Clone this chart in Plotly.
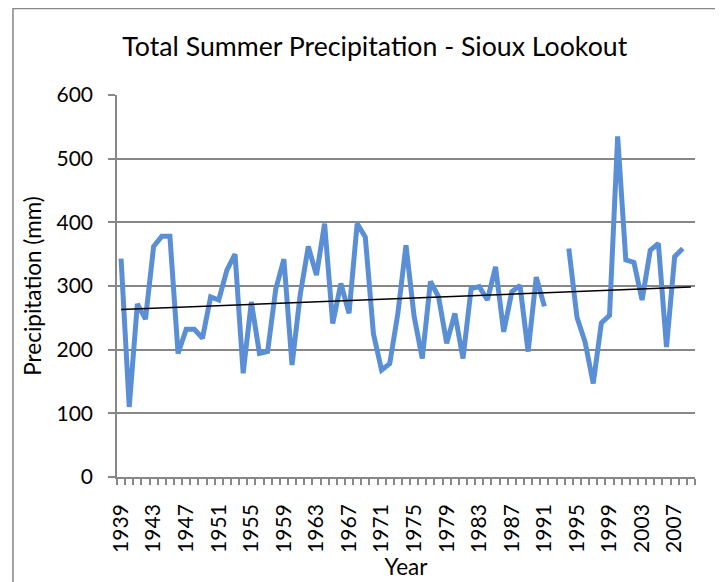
import numpy as np
import plotly.graph_objects as go

years = list(range(1939, 2010))
precip = [343, 110, 272, 248, 362, 378, 378, 194, 232, 232,
          218, 283, 278, 325, 350, 163, 275, 194, 197, 295,
          342, 176, 286, 362, 317, 398, 241, 304, 257, 398,
          377, 225, 168, 178, 257, 364, 252, 186, 307, 283,
          210, 257, 186, 296, 299, 278, 330, 228, 291, 301,
          197, 314, 268, None, None, 359, 251, 212, 147, 242,
          254, 535, 341, 337, 278, 356, 367, 204, 346, 359, None]
tick_years = list(range(1939, 2010, 4))
y_ticks = [0, 100, 200, 300, 400, 500, 600]

# linear trend through available points
xs = np.array([y for y, v in zip(years, precip) if v is not None], dtype=float)
vs = np.array([v for v in precip if v is not None], dtype=float)
slope, intercept = np.polyfit(xs, vs, 1)
trend_x = [years[0], years[-1]]
trend_y = [slope * x + intercept for x in trend_x]

FONT = "Lato"
GRAY = "#878787"
fig = go.Figure()
fig.add_trace(go.Scatter(x=years, y=precip, mode="lines",
                         line=dict(color="#5A8FD6", width=5),
                         connectgaps=False, showlegend=False))
fig.add_trace(go.Scatter(x=trend_x, y=trend_y, mode="lines",
                         line=dict(color="black", width=1.5),
                         showlegend=False))

fig.update_layout(
    width=715, height=574,
    margin=dict(l=109, r=28, t=87, b=105),
    paper_bgcolor="white", plot_bgcolor="white",
    font=dict(family=FONT, color="black"),
    title=dict(text="Total Summer Precipitation - Sioux Lookout",
               x=0.513, xanchor="center", xref="container",
               y=0.932, yanchor="middle", yref="container",
               font=dict(size=26.7, family=FONT)),
    xaxis=dict(range=[1938.5, 2009.5], tickmode="array", tickvals=tick_years,
               ticktext=[str(t) for t in tick_years], tickangle=-90,
               tickfont=dict(size=21), ticks="", showgrid=False,
               ticklabelstandoff=17,
               showline=True, linecolor=GRAY, linewidth=1.5,
               minor=dict(tickmode="linear", tick0=1938.5, dtick=1,
                          ticks="outside", ticklen=6, tickwidth=1.5,
                          tickcolor=GRAY, showgrid=False),
               title=dict(text="Year", font=dict(size=22.5), standoff=6),
               zeroline=False, automargin=False),
    yaxis=dict(range=[0, 600], tickvals=y_ticks, tickfont=dict(size=21),
               ticks="outside", ticklen=7, tickwidth=1.5, tickcolor=GRAY,
               ticklabelstandoff=11,
               showgrid=True, gridcolor=GRAY, gridwidth=1.5,
               showline=True, linecolor=GRAY, linewidth=1.5,
               zeroline=False, automargin=False,
               title=dict(text="Precipitation (mm)", font=dict(size=22.5), standoff=9)),
    shapes=[dict(type="rect", xref="paper", yref="paper",
                 x0=-0.18, x1=1.1, y0=-0.4, y1=1.2265,
                 line=dict(color=GRAY, width=1.5), layer="below")],
)

fig.write_html("out.html")
